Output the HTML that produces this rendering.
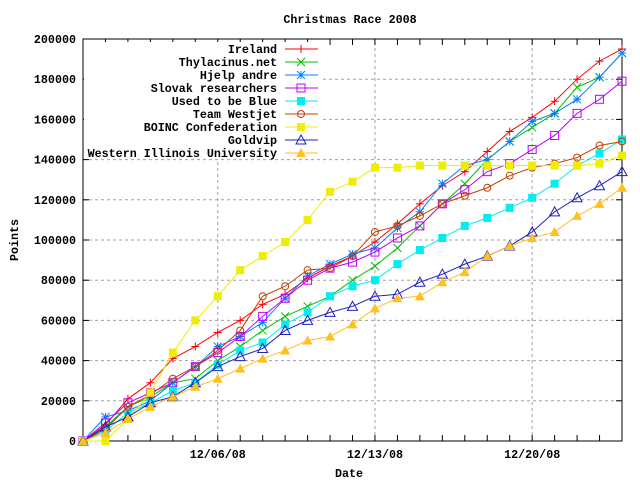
<!DOCTYPE html>
<html><head><meta charset="utf-8"><style>
html,body{margin:0;padding:0;background:#fff;}
svg text{font-family:"Liberation Mono",monospace;font-weight:bold;font-size:11.7px;fill:#000;}
</style></head><body>
<svg id="chart" width="640" height="480" viewBox="0 0 640 480" xmlns="http://www.w3.org/2000/svg">
<rect width="640" height="480" fill="#fff"/>
<text x="350" y="23" text-anchor="middle">Christmas Race 2008</text>
<text x="349" y="477" text-anchor="middle">Date</text>
<text x="18" y="240" text-anchor="middle" transform="rotate(-90 18 240)">Points</text>
<g id="grid"></g><g id="axes"></g><g id="series"></g><g id="legend"></g>
</svg>
<script>
const days = [0,1,2,3,4,5,6,7,8,9,10,11,12,13,14,15,16,17,18,19,20,21,22,23,24];
const yTicks = [0,20000,40000,60000,80000,100000,120000,140000,160000,180000,200000];
const xTickDays = [6,13,20];
const xTickLabels = ["12/06/08","12/13/08","12/20/08"];
const names = ["Ireland","Thylacinus.net","Hjelp andre","Slovak researchers","Used to be Blue","Team Westjet","BOINC Confederation","Goldvip","Western Illinois University"];
const ireland = [0,8,21,29,41,47,54,60,68,73,81,87,92,99,108,118,127,134,144,154,161,169,180,189,195];
const thylacinus = [0,7,17,22,29,31,40,47,55,62,67,72,80,87,96,107,118,128,140,149,156,163,176,181,193];
const hjelp = [0,12,15,20,29,37,47,52,59,71,82,88,93,96,106,114,128,137,140,149,159,163,170,181,193];
const slovak = [0,9,19,24,29,37,44,52,62,71,80,86,89,94,101,107,118,125,134,138,145,152,163,170,179];
const usedBlue = [0,5,14,19,25,29,38,45,49,58,64,72,77,80,88,95,101,107,111,116,121,128,137,143,150];
const westjet = [0,6,17,23,31,37,45,55,72,77,85,86,92,104,107,112,118,122,126,132,136,138,141,147,149];
const boinc = [0,0,11,24,44,60,72,85,92,99,110,124,129,136,136,137,137,137,137,137,137,137,137,138,142];
const goldvip = [0,7,12,19,22,29,37,42,46,55,60,64,67,72,73,79,83,88,92,97,104,114,121,127,134];
const wiu = [0,4,11,17,22,27,31,36,41,45,50,52,58,66,71,72,79,84,92,97,101,104,112,118,126];
const seriesData = [ireland,thylacinus,hjelp,slovak,usedBlue,westjet,boinc,goldvip,wiu];
const colors = ["#ff0000","#00c000","#0080ff","#c000ff","#00eeee","#c04000","#eeee00","#2020c0","#ffc020"];
const markers = ["plus","cross","star","box","fbox","circle","fbox","tri","ftri"];

const X0=83,X1=622,Y0=441,Y1=39;
const xs = d => X0 + d*(X1-X0)/24;
const ys = v => Y0 - v*(Y0-Y1)/200000;
const NS="http://www.w3.org/2000/svg";
function mk(tag, attrs, parent){const e=document.createElementNS(NS,tag);for(const k in attrs)e.setAttribute(k,attrs[k]);parent.appendChild(e);return e;}
const grid=document.getElementById('grid'), axes=document.getElementById('axes'), ser=document.getElementById('series'), leg=document.getElementById('legend');

yTicks.forEach(v=>{
  const y=ys(v);
  if(v>0&&v<200000){const g=mk('line',{x1:X0,x2:X1,y1:y,y2:y,stroke:'#a0a0a0','stroke-dasharray':'3,3'},grid);
  
  }
  mk('line',{x1:X0,x2:X0+6,y1:y,y2:y,stroke:'#000'},axes);
  mk('line',{x1:X1,x2:X1-6,y1:y,y2:y,stroke:'#000'},axes);
  const t=mk('text',{x:76,y:y+4,'text-anchor':'end'},axes);t.textContent=String(v);
  
  
});
xTickDays.forEach((d,i)=>{
  const x=xs(d);
  const g=mk('line',{x1:x,x2:x,y1:Y0,y2:Y1,stroke:'#a0a0a0','stroke-dasharray':'3,3'},grid);
  
  
  const t=mk('text',{x:x,y:458,'text-anchor':'middle'},axes);t.textContent=xTickLabels[i];
  
  
});
days.forEach(d=>{
  const x=xs(d);
  mk('line',{x1:x,x2:x,y1:Y0,y2:Y0-6,stroke:'#000'},axes);
  mk('line',{x1:x,x2:x,y1:Y1,y2:Y1+6,stroke:'#000'},axes);
});
const fr=mk('rect',{x:X0,y:Y1,width:X1-X0,height:Y0-Y1,fill:'none',stroke:'#000'},axes);



function marker(type,x,y,c,p){
  const s=4;
  if(type==='plus'){mk('path',{d:`M${x-s} ${y}H${x+s}M${x} ${y-s}V${y+s}`,stroke:c,fill:'none'},p);}
  else if(type==='cross'){mk('path',{d:`M${x-s} ${y-s}L${x+s} ${y+s}M${x-s} ${y+s}L${x+s} ${y-s}`,stroke:c,fill:'none'},p);}
  else if(type==='star'){mk('path',{d:`M${x-s} ${y}H${x+s}M${x} ${y-s}V${y+s}M${x-s} ${y-s}L${x+s} ${y+s}M${x-s} ${y+s}L${x+s} ${y-s}`,stroke:c,fill:'none'},p);}
  else if(type==='box'){mk('rect',{x:x-s,y:y-s,width:2*s,height:2*s,stroke:c,fill:'none'},p);}
  else if(type==='fbox'){mk('rect',{x:x-s,y:y-s,width:2*s,height:2*s,fill:c},p);}
  else if(type==='circle'){mk('circle',{cx:x,cy:y,r:3.5,stroke:c,fill:'none'},p);}
  else if(type==='tri'){mk('path',{d:`M${x} ${y-s-1}L${x+s+1} ${y+s}L${x-s-1} ${y+s}Z`,stroke:c,fill:'none'},p);}
  else if(type==='ftri'){mk('path',{d:`M${x} ${y-s-1}L${x+s+1} ${y+s}L${x-s-1} ${y+s}Z`,fill:c},p);}
}

seriesData.forEach((arr,i)=>{
  const g=mk('g',{},ser);
  
  
  const pts=arr.map((v,d)=>xs(days[d])+','+ys(v*1000)).join(' ');
  mk('polyline',{points:pts,fill:'none',stroke:colors[i],'stroke-width':1},g);
  arr.forEach((v,d)=>marker(markers[i],xs(days[d]),ys(v*1000),colors[i],g));
});

mk('rect',{x:84,y:42,width:238,height:117,fill:'#fff'},leg);
names.forEach((n,i)=>{
  const y=49+i*13;
  const g=mk('g',{},leg);
  
  
  const t=mk('text',{x:277,y:y+4,'text-anchor':'end'},g);t.textContent=n;
  mk('line',{x1:285,x2:318,y1:y,y2:y,stroke:colors[i]},g);
  marker(markers[i],301,y,colors[i],g);
});
</script>
</body></html>
